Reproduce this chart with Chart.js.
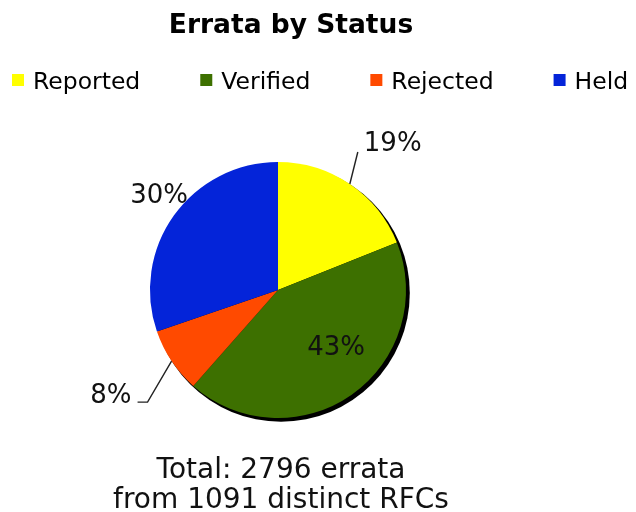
<!DOCTYPE html>
<html><head><meta charset="utf-8">
<script src="https://cdn.jsdelivr.net/npm/chart.js@4/dist/chart.umd.min.js"></script>
<style>html,body{margin:0;padding:0;background:#fff;}#wrap{width:636px;height:512px;}</style>
</head><body><div id="wrap"><canvas id="c" width="636" height="512"></canvas></div>
<script>
// ---- data ----
const categories = ['Reported', 'Verified', 'Rejected', 'Held'];
const counts = [530, 1190, 230, 846];
const percentLabels = ['19%', '43%', '8%', '30%'];
const titleText = 'Errata by Status';
const footerLines = ['Total: 2796 errata', 'from 1091 distinct RFCs'];

// ---- styles ----
const colors = ['#ffff00', '#3d7000', '#ff4a00', '#0424d9'];
const FONT = '"DejaVu Sans", Verdana, sans-serif';
// label placement per slice (style only)
const labelPlacement = [
  {type: 'leader', ldx: 8, ldy: -32, tail: 0, tdx: 6, tdy: -8, align: 'left'},
  {type: 'inside', f: 0.64, dx: 11, dy: -9},
  {type: 'leader', ldx: -24, ldy: 41, tail: -10, tdx: -6, tdy: -6, align: 'right'},
  {type: 'inside', f: 1.17, dx: 3, dy: -7}
];

const shadowPlugin = {
  id: 'shadow',
  beforeDatasetsDraw(chart) {
    const arc = chart.getDatasetMeta(0).data[0];
    if (!arc) return;
    const ctx = chart.ctx;
    ctx.save();
    ctx.fillStyle = '#000';
    ctx.beginPath();
    ctx.arc(arc.x + 3, arc.y + 3, arc.outerRadius + 0.8, 0, Math.PI * 2);
    ctx.fill();
    ctx.restore();
  }
};

const labelPlugin = {
  id: 'pctLabels',
  afterDatasetsDraw(chart) {
    const ctx = chart.ctx;
    const arcs = chart.getDatasetMeta(0).data;
    ctx.save();
    ctx.font = '26px ' + FONT;
    ctx.fillStyle = '#111';
    ctx.strokeStyle = '#222';
    ctx.lineWidth = 1.4;
    ctx.textBaseline = 'middle';
    arcs.forEach((arc, i) => {
      const p = labelPlacement[i];
      const mid = (arc.startAngle + arc.endAngle) / 2;
      const r = arc.outerRadius;
      if (p.type === 'inside') {
        const x = arc.x + Math.cos(mid) * r * p.f + p.dx;
        const y = arc.y + Math.sin(mid) * r * p.f + p.dy;
        ctx.textAlign = 'center';
        ctx.fillText(percentLabels[i], x, y);
      } else {
        const sx = arc.x + Math.cos(mid) * r;
        const sy = arc.y + Math.sin(mid) * r;
        const ex = sx + p.ldx, ey = sy + p.ldy;
        ctx.beginPath();
        ctx.moveTo(sx, sy);
        ctx.lineTo(ex, ey);
        if (p.tail) ctx.lineTo(ex + p.tail, ey);
        ctx.stroke();
        ctx.textAlign = p.align;
        ctx.fillText(percentLabels[i], ex + p.tail + p.tdx, ey + p.tdy);
      }
    });
    ctx.restore();
  }
};

const textPlugin = {
  id: 'texts',
  afterDraw(chart) {
    const ctx = chart.ctx;
    ctx.save();
    ctx.fillStyle = '#000';
    ctx.textBaseline = 'alphabetic';
    // title
    ctx.font = 'bold 26.5px ' + FONT;
    ctx.textAlign = 'center';
    ctx.fillText(titleText, 291, 33);
    // legend
    ctx.font = '23.5px ' + FONT;
    ctx.textAlign = 'left';
    let x = 12;
    categories.forEach((c, i) => {
      ctx.fillStyle = colors[i];
      ctx.fillRect(x, 74, 12, 12);
      ctx.fillStyle = '#000';
      ctx.fillText(c, x + 21, 89);
      x += 21 + ctx.measureText(c).width + 60;
    });
    // footer
    ctx.font = '28px ' + FONT;
    ctx.textAlign = 'center';
    ctx.fillStyle = '#111';
    ctx.fillText(footerLines[0], 281, 478);
    ctx.fillText(footerLines[1], 281, 508);
    ctx.restore();
  }
};

new Chart(document.getElementById('c'), {
  type: 'pie',
  data: {
    labels: categories,
    datasets: [{
      data: counts,
      backgroundColor: colors,
      borderWidth: 0,
      hoverOffset: 0
    }]
  },
  options: {
    responsive: false,
    animation: false,
    layout: {padding: {left: 150, right: 230, top: 162, bottom: 94}},
    plugins: {
      legend: {display: false},
      title: {display: false},
      tooltip: {enabled: false}
    }
  },
  plugins: [shadowPlugin, labelPlugin, textPlugin]
});
</script>
</body></html>
